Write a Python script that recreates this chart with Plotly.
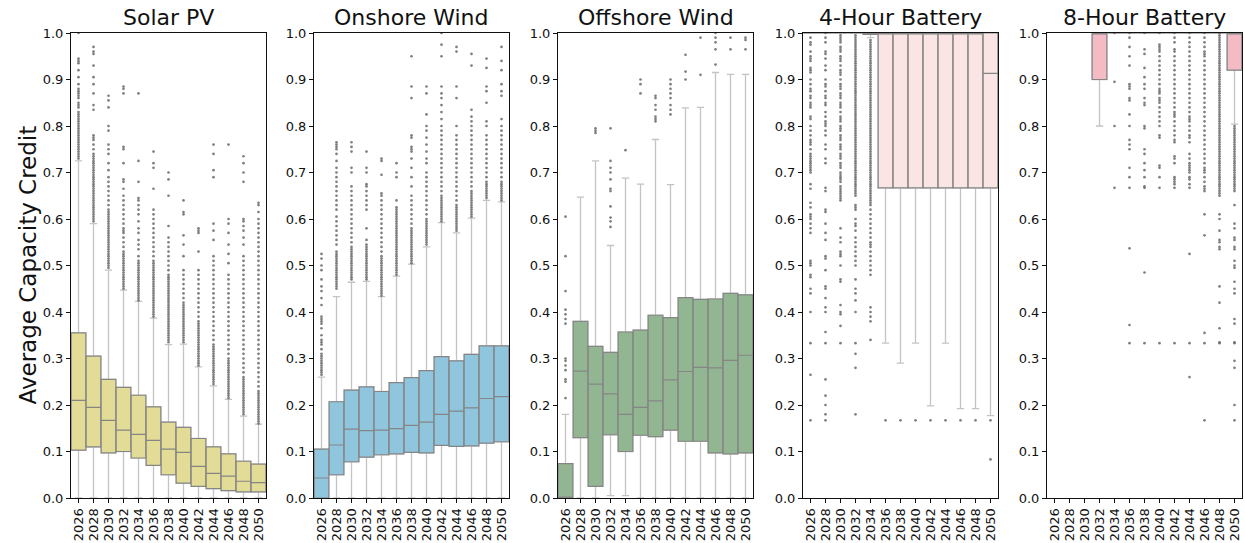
import plotly.graph_objects as go

YEARS = [2026, 2028, 2030, 2032, 2034, 2036, 2038, 2040, 2042, 2044, 2046, 2048, 2050]
TITLES = ["Solar PV", "Onshore Wind", "Offshore Wind", "4-Hour Battery", "8-Hour Battery"]
Y_TICKS = [0.0, 0.1, 0.2, 0.3, 0.4, 0.5, 0.6, 0.7, 0.8, 0.9, 1.0]

# ---------------- Solar PV ----------------
SOLAR_Q1 = [0.103, 0.110, 0.097, 0.100, 0.086, 0.070, 0.050, 0.032, 0.025, 0.020, 0.016, 0.013, 0.013]
SOLAR_MED = [0.210, 0.195, 0.167, 0.146, 0.137, 0.124, 0.105, 0.098, 0.068, 0.053, 0.047, 0.036, 0.033]
SOLAR_Q3 = [0.355, 0.305, 0.255, 0.238, 0.221, 0.196, 0.163, 0.152, 0.128, 0.110, 0.095, 0.079, 0.073]
SOLAR_LO = [0.0, 0.0, 0.0, 0.0, 0.0, 0.0, 0.0, 0.0, 0.0, 0.0, 0.0, 0.0, 0.0]
SOLAR_HI = [0.725, 0.590, 0.490, 0.447, 0.423, 0.387, 0.330, 0.331, 0.282, 0.241, 0.212, 0.176, 0.159]
SOLAR_OUT = [
    [0.730, 0.735, 0.740, 0.745, 0.750, 0.755, 0.760, 0.765, 0.770, 0.775, 0.780, 0.785, 0.790, 0.795, 0.800,
     0.805, 0.810, 0.815, 0.820, 0.825, 0.830, 0.840, 0.845, 0.850, 0.860, 0.865, 0.870, 0.875, 0.880, 0.890,
     0.905, 0.920, 0.935, 0.940, 0.945, 1.000],
    [0.595, 0.600, 0.605, 0.610, 0.615, 0.620, 0.625, 0.630, 0.635, 0.640, 0.645, 0.650, 0.655, 0.660, 0.665,
     0.670, 0.675, 0.680, 0.685, 0.690, 0.695, 0.700, 0.705, 0.710, 0.715, 0.720, 0.725, 0.730, 0.735, 0.740,
     0.750, 0.760, 0.770, 0.775, 0.780, 0.835, 0.845, 0.870, 0.890, 0.905, 0.930, 0.955, 0.960, 0.970],
    [0.495, 0.500, 0.505, 0.510, 0.515, 0.520, 0.525, 0.530, 0.535, 0.540, 0.545, 0.550, 0.555, 0.560, 0.565,
     0.570, 0.575, 0.580, 0.585, 0.590, 0.595, 0.600, 0.605, 0.610, 0.615, 0.620, 0.630, 0.640, 0.650, 0.660,
     0.670, 0.680, 0.690, 0.705, 0.720, 0.740, 0.750, 0.760, 0.790, 0.800, 0.840, 0.855, 0.865],
    [0.450, 0.455, 0.460, 0.465, 0.470, 0.475, 0.480, 0.485, 0.490, 0.495, 0.500, 0.505, 0.510, 0.515, 0.520,
     0.525, 0.530, 0.540, 0.550, 0.560, 0.570, 0.575, 0.580, 0.590, 0.600, 0.610, 0.620, 0.630, 0.640, 0.650,
     0.665, 0.680, 0.685, 0.720, 0.750, 0.755, 0.870, 0.880, 0.885],
    [0.425, 0.430, 0.435, 0.440, 0.445, 0.450, 0.455, 0.460, 0.465, 0.470, 0.475, 0.480, 0.485, 0.490, 0.495,
     0.500, 0.505, 0.510, 0.520, 0.535, 0.545, 0.555, 0.570, 0.580, 0.595, 0.610, 0.620, 0.630, 0.640, 0.645,
     0.680, 0.725, 0.870],
    [0.390, 0.395, 0.400, 0.405, 0.410, 0.415, 0.420, 0.425, 0.430, 0.435, 0.440, 0.445, 0.450, 0.455, 0.460,
     0.465, 0.470, 0.475, 0.480, 0.485, 0.490, 0.495, 0.500, 0.505, 0.510, 0.520, 0.530, 0.540, 0.550, 0.560,
     0.570, 0.580, 0.590, 0.600, 0.610, 0.620, 0.665, 0.710, 0.720, 0.745],
    [0.335, 0.340, 0.345, 0.350, 0.355, 0.360, 0.365, 0.370, 0.375, 0.380, 0.385, 0.390, 0.395, 0.400, 0.405,
     0.410, 0.415, 0.420, 0.425, 0.430, 0.435, 0.440, 0.445, 0.450, 0.455, 0.460, 0.465, 0.470, 0.475, 0.480,
     0.490, 0.500, 0.510, 0.520, 0.530, 0.540, 0.550, 0.560, 0.585, 0.650, 0.685, 0.700],
    [0.335, 0.340, 0.345, 0.350, 0.355, 0.360, 0.365, 0.370, 0.375, 0.380, 0.385, 0.390, 0.395, 0.400, 0.405,
     0.410, 0.415, 0.420, 0.430, 0.440, 0.450, 0.460, 0.470, 0.480, 0.490, 0.520, 0.545, 0.565, 0.610, 0.615,
     0.640],
    [0.285, 0.290, 0.295, 0.300, 0.305, 0.310, 0.315, 0.320, 0.325, 0.330, 0.335, 0.340, 0.345, 0.350, 0.355,
     0.360, 0.365, 0.370, 0.375, 0.380, 0.390, 0.400, 0.410, 0.420, 0.430, 0.440, 0.450, 0.460, 0.470, 0.480,
     0.490, 0.530, 0.570, 0.575, 0.580],
    [0.245, 0.250, 0.255, 0.260, 0.265, 0.270, 0.275, 0.280, 0.285, 0.290, 0.295, 0.300, 0.305, 0.310, 0.315,
     0.320, 0.325, 0.330, 0.340, 0.350, 0.360, 0.370, 0.380, 0.390, 0.400, 0.410, 0.420, 0.430, 0.440, 0.450,
     0.460, 0.470, 0.480, 0.490, 0.500, 0.510, 0.520, 0.555, 0.575, 0.590, 0.690, 0.705, 0.740, 0.760],
    [0.215, 0.220, 0.225, 0.230, 0.235, 0.240, 0.245, 0.250, 0.255, 0.260, 0.265, 0.270, 0.275, 0.280, 0.285,
     0.290, 0.295, 0.300, 0.310, 0.320, 0.330, 0.340, 0.350, 0.360, 0.370, 0.380, 0.390, 0.400, 0.410, 0.420,
     0.430, 0.440, 0.450, 0.460, 0.470, 0.480, 0.505, 0.525, 0.545, 0.570, 0.590, 0.600, 0.760],
    [0.180, 0.185, 0.190, 0.195, 0.200, 0.205, 0.210, 0.215, 0.220, 0.225, 0.230, 0.235, 0.240, 0.245, 0.250,
     0.255, 0.260, 0.270, 0.280, 0.290, 0.300, 0.310, 0.320, 0.330, 0.340, 0.350, 0.360, 0.370, 0.380, 0.390,
     0.400, 0.410, 0.420, 0.430, 0.440, 0.450, 0.460, 0.470, 0.480, 0.490, 0.500, 0.510, 0.520, 0.545, 0.560,
     0.575, 0.585, 0.595, 0.600, 0.680, 0.700, 0.720, 0.735],
    [0.160, 0.165, 0.170, 0.175, 0.180, 0.185, 0.190, 0.195, 0.200, 0.205, 0.210, 0.215, 0.220, 0.225, 0.230,
     0.240, 0.250, 0.260, 0.270, 0.280, 0.290, 0.300, 0.310, 0.320, 0.330, 0.340, 0.350, 0.360, 0.370, 0.380,
     0.390, 0.400, 0.410, 0.420, 0.430, 0.440, 0.450, 0.460, 0.470, 0.480, 0.490, 0.500, 0.510, 0.520, 0.530,
     0.540, 0.550, 0.560, 0.570, 0.580, 0.590, 0.600, 0.615, 0.630, 0.635],
]

# ---------------- Onshore Wind ----------------
ONSHORE_Q1 = [0.000, 0.050, 0.078, 0.088, 0.093, 0.095, 0.098, 0.097, 0.113, 0.111, 0.112, 0.118, 0.121]
ONSHORE_MED = [0.043, 0.114, 0.148, 0.145, 0.146, 0.149, 0.156, 0.163, 0.180, 0.187, 0.194, 0.214, 0.218]
ONSHORE_Q3 = [0.105, 0.207, 0.232, 0.239, 0.229, 0.248, 0.259, 0.274, 0.304, 0.295, 0.309, 0.327, 0.327]
ONSHORE_LO = [0.0, 0.0, 0.0, 0.0, 0.0, 0.0, 0.0, 0.0, 0.0, 0.0, 0.0, 0.0, 0.0]
ONSHORE_HI = [0.260, 0.433, 0.464, 0.466, 0.433, 0.477, 0.503, 0.540, 0.592, 0.570, 0.602, 0.640, 0.637]
ONSHORE_OUT = [
    [0.265, 0.270, 0.275, 0.280, 0.285, 0.290, 0.295, 0.300, 0.305, 0.310, 0.320, 0.330, 0.335, 0.340, 0.350,
     0.365, 0.375, 0.380, 0.385, 0.390, 0.415, 0.430, 0.445, 0.455, 0.470, 0.490, 0.500, 0.515, 0.525],
    [0.450, 0.455, 0.460, 0.465, 0.470, 0.475, 0.480, 0.485, 0.490, 0.495, 0.500, 0.505, 0.510, 0.515, 0.520,
     0.525, 0.530, 0.545, 0.555, 0.565, 0.575, 0.585, 0.595, 0.605, 0.620, 0.630, 0.640, 0.650, 0.660, 0.670,
     0.680, 0.690, 0.700, 0.710, 0.725, 0.740, 0.750, 0.755, 0.760, 0.765],
    [0.470, 0.475, 0.480, 0.485, 0.490, 0.495, 0.500, 0.505, 0.510, 0.515, 0.520, 0.525, 0.530, 0.535, 0.540,
     0.550, 0.560, 0.570, 0.580, 0.590, 0.600, 0.610, 0.620, 0.630, 0.640, 0.650, 0.660, 0.670, 0.700, 0.710,
     0.745, 0.755, 0.765],
    [0.470, 0.475, 0.480, 0.485, 0.490, 0.495, 0.500, 0.505, 0.510, 0.515, 0.520, 0.525, 0.530, 0.535, 0.540,
     0.545, 0.555, 0.580, 0.620, 0.630, 0.640, 0.650, 0.660, 0.670, 0.675, 0.700, 0.710, 0.745],
    [0.435, 0.440, 0.445, 0.450, 0.455, 0.460, 0.465, 0.470, 0.475, 0.480, 0.485, 0.490, 0.495, 0.500, 0.505,
     0.510, 0.515, 0.520, 0.530, 0.540, 0.550, 0.560, 0.570, 0.580, 0.590, 0.600, 0.610, 0.620, 0.630, 0.640,
     0.650, 0.655, 0.695, 0.725, 0.730],
    [0.480, 0.485, 0.490, 0.495, 0.500, 0.505, 0.510, 0.515, 0.520, 0.525, 0.530, 0.535, 0.540, 0.545, 0.550,
     0.555, 0.560, 0.565, 0.570, 0.575, 0.580, 0.585, 0.590, 0.595, 0.600, 0.605, 0.610, 0.615, 0.620, 0.625,
     0.640, 0.690, 0.700, 0.720],
    [0.505, 0.510, 0.515, 0.520, 0.525, 0.530, 0.535, 0.540, 0.545, 0.550, 0.555, 0.560, 0.565, 0.570, 0.575,
     0.580, 0.590, 0.600, 0.610, 0.620, 0.630, 0.640, 0.650, 0.670, 0.690, 0.710, 0.730, 0.745, 0.750, 0.755,
     0.775, 0.780, 0.860, 0.885, 0.950],
    [0.545, 0.550, 0.555, 0.560, 0.565, 0.570, 0.575, 0.580, 0.585, 0.590, 0.595, 0.600, 0.610, 0.620, 0.630,
     0.640, 0.650, 0.660, 0.670, 0.680, 0.690, 0.700, 0.720, 0.730, 0.745, 0.760, 0.775, 0.790, 0.800, 0.825,
     0.870, 0.885],
    [0.595, 0.600, 0.605, 0.610, 0.615, 0.620, 0.625, 0.630, 0.635, 0.640, 0.645, 0.650, 0.660, 0.670, 0.680,
     0.690, 0.700, 0.710, 0.720, 0.730, 0.740, 0.750, 0.760, 0.770, 0.780, 0.790, 0.800, 0.815, 0.830, 0.845,
     0.860, 0.870, 0.885, 0.950, 0.975, 1.000],
    [0.575, 0.580, 0.585, 0.590, 0.595, 0.600, 0.605, 0.610, 0.615, 0.620, 0.625, 0.630, 0.640, 0.650, 0.660,
     0.670, 0.680, 0.690, 0.700, 0.710, 0.720, 0.730, 0.740, 0.750, 0.760, 0.770, 0.780, 0.800, 0.860, 0.885,
     0.960, 0.970],
    [0.605, 0.610, 0.615, 0.620, 0.625, 0.630, 0.635, 0.640, 0.645, 0.650, 0.655, 0.660, 0.670, 0.680, 0.690,
     0.700, 0.710, 0.720, 0.730, 0.740, 0.750, 0.760, 0.770, 0.780, 0.790, 0.800, 0.810, 0.820, 0.835, 0.930,
     0.955],
    [0.645, 0.650, 0.655, 0.660, 0.665, 0.670, 0.675, 0.680, 0.690, 0.700, 0.710, 0.720, 0.730, 0.740, 0.750,
     0.760, 0.770, 0.780, 0.800, 0.810, 0.850, 0.875, 0.885, 0.925, 0.945],
    [0.640, 0.645, 0.650, 0.655, 0.660, 0.665, 0.670, 0.675, 0.680, 0.690, 0.700, 0.710, 0.720, 0.730, 0.740,
     0.750, 0.760, 0.770, 0.780, 0.790, 0.800, 0.815, 0.865, 0.875, 0.890, 0.920, 0.940, 0.970],
]

# ---------------- Offshore Wind ----------------
OFFSHORE_Q1 = [0.000, 0.130, 0.025, 0.136, 0.100, 0.135, 0.132, 0.146, 0.122, 0.122, 0.097, 0.095, 0.097]
OFFSHORE_MED = [0.000, 0.273, 0.245, 0.224, 0.180, 0.195, 0.209, 0.254, 0.272, 0.281, 0.280, 0.296, 0.307]
OFFSHORE_Q3 = [0.074, 0.380, 0.326, 0.313, 0.357, 0.361, 0.393, 0.388, 0.431, 0.427, 0.428, 0.440, 0.437]
OFFSHORE_LO = [0.0, 0.0, 0.0, 0.005, 0.005, 0.0, 0.0, 0.0, 0.0, 0.0, 0.0, 0.0, 0.0]
OFFSHORE_HI = [0.180, 0.647, 0.725, 0.543, 0.688, 0.675, 0.771, 0.674, 0.839, 0.840, 0.915, 0.911, 0.911]
OFFSHORE_OUT = [
    [0.215, 0.250, 0.255, 0.275, 0.285, 0.295, 0.300, 0.375, 0.385, 0.395, 0.405, 0.445, 0.520, 0.605],
    [],
    [0.785, 0.790, 0.795],
    [0.583, 0.595, 0.603, 0.627, 0.660, 0.665, 0.685, 0.700, 0.710, 0.725, 0.795],
    [0.748],
    [0.870, 0.890, 0.900],
    [0.810, 0.815, 0.820, 0.835, 0.845, 0.860, 0.865],
    [0.825, 0.835, 0.845, 0.860, 0.870, 0.880, 0.890, 0.900],
    [0.900, 0.917, 0.953],
    [0.910, 0.990],
    [0.932, 0.965, 0.980, 0.990, 1.000],
    [0.965, 0.990],
    [0.965, 0.985, 0.990],
]

# ---------------- 4-Hour Battery ----------------
BAT4_Q1 = [1.0, 1.0, 1.0, 1.0, 0.997, 0.667, 0.667, 0.667, 0.667, 0.667, 0.667, 0.667, 0.667]
BAT4_MED = [1.0, 1.0, 1.0, 1.0, 1.0, 1.0, 1.0, 1.0, 1.0, 1.0, 1.0, 1.0, 0.913]
BAT4_Q3 = [1.0, 1.0, 1.0, 1.0, 1.0, 1.0, 1.0, 1.0, 1.0, 1.0, 1.0, 1.0, 1.0]
BAT4_LO = [1.0, 1.0, 1.0, 1.0, 0.990, 0.333, 0.290, 0.333, 0.198, 0.333, 0.192, 0.192, 0.177]
BAT4_HI = [1.0, 1.0, 1.0, 1.0, 1.0, 1.0, 1.0, 1.0, 1.0, 1.0, 1.0, 1.0, 1.0]
BAT4_OUT = [
    [0.167, 0.265, 0.333, 0.400, 0.440, 0.450, 0.475, 0.480, 0.500, 0.505, 0.510, 0.570, 0.580, 0.590, 0.600,
     0.605, 0.610, 0.625, 0.635, 0.665, 0.675, 0.700, 0.705, 0.710, 0.715, 0.720, 0.725, 0.730, 0.735, 0.740,
     0.750, 0.760, 0.765, 0.770, 0.780, 0.790, 0.800, 0.815, 0.820, 0.840, 0.845, 0.850, 0.860, 0.865, 0.875,
     0.880, 0.890, 0.900, 0.915, 0.920, 0.925, 0.940, 0.945, 0.950, 0.960, 0.975, 0.980, 0.990],
    [0.167, 0.180, 0.200, 0.220, 0.255, 0.333, 0.357, 0.400, 0.410, 0.430, 0.450, 0.455, 0.490, 0.515, 0.520,
     0.555, 0.570, 0.590, 0.615, 0.620, 0.660, 0.667, 0.720, 0.730, 0.750, 0.760, 0.780, 0.790, 0.800, 0.805,
     0.810, 0.820, 0.830, 0.845, 0.850, 0.860, 0.865, 0.875, 0.885, 0.890, 0.900, 0.920, 0.930, 0.945, 0.955,
     0.960, 0.980, 0.990, 1.000],
    [0.333, 0.370, 0.395, 0.400, 0.415, 0.465, 0.470, 0.500, 0.520, 0.525, 0.530, 0.550, 0.560, 0.580, 0.640,
     0.645, 0.650, 0.655, 0.660, 0.665, 0.670, 0.680, 0.685, 0.690, 0.695, 0.700, 0.710, 0.715, 0.720, 0.730,
     0.735, 0.740, 0.750, 0.755, 0.760, 0.770, 0.775, 0.780, 0.790, 0.795, 0.800, 0.810, 0.815, 0.820, 0.830,
     0.840, 0.845, 0.850, 0.860, 0.865, 0.870, 0.880, 0.885, 0.890, 0.900, 0.910, 0.915, 0.920, 0.930, 0.940,
     0.945, 0.950, 0.960, 0.965, 0.970, 0.980, 0.985, 0.990, 0.995],
    [0.180, 0.280, 0.310, 0.333, 0.400, 0.425, 0.440, 0.450, 0.470, 0.500, 0.510, 0.520, 0.530, 0.540, 0.550,
     0.560, 0.575, 0.585, 0.590, 0.600, 0.620, 0.625, 0.630, 0.650, 0.655, 0.660, 0.665, 0.670, 0.675, 0.680,
     0.685, 0.690, 0.695, 0.700, 0.705, 0.710, 0.715, 0.720, 0.725, 0.730, 0.735, 0.740, 0.745, 0.750, 0.755,
     0.760, 0.765, 0.770, 0.775, 0.780, 0.785, 0.790, 0.795, 0.800, 0.805, 0.810, 0.815, 0.820, 0.825, 0.830,
     0.835, 0.840, 0.845, 0.850, 0.855, 0.860, 0.865, 0.870, 0.875, 0.880, 0.885, 0.890, 0.895, 0.900, 0.905,
     0.910, 0.915, 0.920, 0.925, 0.930, 0.935, 0.940, 0.945, 0.950, 0.955, 0.960, 0.965, 0.970, 0.975, 0.980,
     0.985, 0.990, 0.995],
    [0.340, 0.380, 0.390, 0.400, 0.410, 0.480, 0.490, 0.500, 0.510, 0.520, 0.530, 0.540, 0.545, 0.550, 0.560,
     0.570, 0.580, 0.590, 0.600, 0.610, 0.620, 0.630, 0.635, 0.640, 0.645, 0.650, 0.655, 0.660, 0.665, 0.670,
     0.675, 0.680, 0.685, 0.690, 0.695, 0.700, 0.705, 0.710, 0.715, 0.720, 0.725, 0.730, 0.735, 0.740, 0.745,
     0.750, 0.755, 0.760, 0.765, 0.770, 0.775, 0.780, 0.785, 0.790, 0.795, 0.800, 0.805, 0.810, 0.815, 0.820,
     0.825, 0.830, 0.835, 0.840, 0.845, 0.850, 0.855, 0.860, 0.865, 0.870, 0.875, 0.880, 0.885, 0.890, 0.895,
     0.900, 0.905, 0.910, 0.915, 0.920, 0.925, 0.930, 0.935, 0.940, 0.945, 0.950, 0.955, 0.960, 0.965, 0.970,
     0.975, 0.980, 0.985],
    [0.167], [0.167], [0.167], [0.167], [0.167], [0.167], [0.167], [0.083, 0.167],
]

# ---------------- 8-Hour Battery ----------------
BAT8_Q1 = [None, None, None, 0.900, 1.0, 1.0, 1.0, 1.0, 1.0, 1.0, 1.0, 1.0, 0.920]
BAT8_MED = [None, None, None, 1.0, 1.0, 1.0, 1.0, 1.0, 1.0, 1.0, 1.0, 1.0, 1.0]
BAT8_Q3 = [None, None, None, 1.0, 1.0, 1.0, 1.0, 1.0, 1.0, 1.0, 1.0, 1.0, 1.0]
BAT8_LO = [None, None, None, 0.800, 1.0, 1.0, 1.0, 1.0, 1.0, 1.0, 1.0, 1.0, 0.804]
BAT8_HI = [None, None, None, 1.0, 1.0, 1.0, 1.0, 1.0, 1.0, 1.0, 1.0, 1.0, 1.0]
BAT8_OUT = [
    [], [], [], [],
    [0.667, 0.800, 0.895, 1.000],
    [0.333, 0.372, 0.537, 0.667, 0.690, 0.710, 0.750, 0.760, 0.770, 0.800, 0.825, 0.855, 0.860, 0.880, 0.885,
     0.890, 0.930, 0.950, 0.970, 0.990, 1.000],
    [0.333, 0.485, 0.667, 0.670, 0.690, 0.705, 0.720, 0.740, 0.750, 0.795, 0.800, 0.845, 0.850, 0.860, 0.880,
     0.890, 0.905, 0.925, 0.955, 0.965, 1.000],
    [0.333, 0.667, 0.690, 0.710, 0.715, 0.775, 0.780, 0.800, 0.810, 0.820, 0.830, 0.840, 0.850, 0.855, 0.860,
     0.870, 0.875, 0.880, 0.890, 0.900, 0.910, 0.920, 0.930, 0.940, 0.950, 0.960, 0.965, 0.970, 0.975, 1.000],
    [0.333, 0.667, 0.675, 0.680, 0.685, 0.690, 0.720, 0.730, 0.735, 0.765, 0.770, 0.780, 0.790, 0.800, 0.810,
     0.820, 0.825, 0.830, 0.840, 0.850, 0.860, 0.870, 0.880, 0.890, 0.900, 0.910, 0.920, 0.930, 0.940, 0.950,
     0.960, 0.965, 0.980, 0.990, 1.000],
    [0.260, 0.333, 0.525, 0.667, 0.675, 0.685, 0.690, 0.700, 0.705, 0.710, 0.715, 0.720, 0.730, 0.740, 0.765,
     0.775, 0.780, 0.790, 0.800, 0.810, 0.815, 0.820, 0.830, 0.840, 0.850, 0.860, 0.870, 0.880, 0.890, 0.900,
     0.910, 0.920, 0.930, 0.940, 0.950, 0.960, 0.970, 0.980, 0.990, 1.000],
    [0.167, 0.333, 0.355, 0.565, 0.610, 0.660, 0.665, 0.670, 0.680, 0.690, 0.700, 0.705, 0.710, 0.720, 0.730,
     0.740, 0.750, 0.760, 0.770, 0.780, 0.790, 0.800, 0.810, 0.820, 0.830, 0.840, 0.850, 0.860, 0.870, 0.880,
     0.890, 0.900, 0.910, 0.920, 0.930, 0.940, 0.950, 0.955, 0.960, 0.970, 0.980, 0.990, 1.000],
    [0.333, 0.335, 0.365, 0.420, 0.455, 0.535, 0.540, 0.550, 0.555, 0.575, 0.600, 0.610, 0.650, 0.655, 0.660,
     0.665, 0.670, 0.675, 0.680, 0.685, 0.690, 0.695, 0.700, 0.705, 0.710, 0.715, 0.720, 0.725, 0.730, 0.735,
     0.740, 0.745, 0.750, 0.755, 0.760, 0.765, 0.770, 0.775, 0.780, 0.785, 0.790, 0.795, 0.800, 0.805, 0.810,
     0.815, 0.820, 0.825, 0.830, 0.835, 0.840, 0.845, 0.850, 0.855, 0.860, 0.865, 0.870, 0.875, 0.880, 0.885,
     0.890, 0.895, 0.900, 0.905, 0.910, 0.915, 0.920, 0.925, 0.930, 0.935, 0.940, 0.945, 0.950, 0.955, 0.960,
     0.965, 0.970, 0.975, 0.980, 0.985, 0.990, 0.995, 1.000],
    [0.167, 0.200, 0.280, 0.295, 0.333, 0.335, 0.375, 0.385, 0.440, 0.450, 0.465, 0.495, 0.500, 0.510, 0.535,
     0.540, 0.555, 0.560, 0.580, 0.590, 0.630, 0.660, 0.665, 0.670, 0.675, 0.680, 0.685, 0.690, 0.695, 0.700,
     0.705, 0.710, 0.715, 0.720, 0.725, 0.730, 0.735, 0.740, 0.745, 0.750, 0.755, 0.760, 0.765, 0.770, 0.775,
     0.780, 0.785, 0.790, 0.795, 0.800],
]

PANELS = [
    (SOLAR_Q1, SOLAR_MED, SOLAR_Q3, SOLAR_LO, SOLAR_HI, SOLAR_OUT),
    (ONSHORE_Q1, ONSHORE_MED, ONSHORE_Q3, ONSHORE_LO, ONSHORE_HI, ONSHORE_OUT),
    (OFFSHORE_Q1, OFFSHORE_MED, OFFSHORE_Q3, OFFSHORE_LO, OFFSHORE_HI, OFFSHORE_OUT),
    (BAT4_Q1, BAT4_MED, BAT4_Q3, BAT4_LO, BAT4_HI, BAT4_OUT),
    (BAT8_Q1, BAT8_MED, BAT8_Q3, BAT8_LO, BAT8_HI, BAT8_OUT),
]

# ---------------- styling ----------------
FILLS = ["#e3dc97", "#8fc6de", "#92b692", "#fae4e4", "#f5bbc5"]
EDGE = "#858585"
WHISKER = "#c4c4c4"
FLIER = "rgba(105,105,105,0.85)"
W, H = 1245, 543
PX_LEFT = [71, 314, 558, 803, 1047]
PX_WIDTH = 195
TOP, BOTTOM = 33, 498
FONT = "DejaVu Sans"
INK = "#111111"

fig = go.Figure()
for i, (q1, med, q3, lo, hi, out) in enumerate(PANELS):
    xa = "x" if i == 0 else f"x{i+1}"
    ya = "y" if i == 0 else f"y{i+1}"
    idx = [k for k in range(len(YEARS)) if q1[k] is not None]
    common = dict(x=idx, q1=[q1[k] for k in idx], median=[med[k] for k in idx], q3=[q3[k] for k in idx],
                  width=0.98, fillcolor=FILLS[i], boxpoints=False, showlegend=False,
                  xaxis=xa, yaxis=ya, hoverinfo="skip")
    # whiskers (light grey)
    fig.add_trace(go.Box(lowerfence=[lo[k] for k in idx], upperfence=[hi[k] for k in idx],
                         whiskerwidth=0.5, line=dict(color=WHISKER, width=1.3), **common))
    # box body + median (darker grey)
    fig.add_trace(go.Box(lowerfence=[q1[k] for k in idx], upperfence=[q3[k] for k in idx],
                         whiskerwidth=0, line=dict(color=EDGE, width=1.2), **common))
    # outliers
    fx, fy = [], []
    for k, vals in enumerate(out):
        for v in vals:
            fx.append(k)
            fy.append(v)
    fig.add_trace(go.Scatter(x=fx, y=fy, mode="markers", showlegend=False, hoverinfo="skip",
                             marker=dict(size=2.7, color=FLIER, line=dict(width=0)),
                             xaxis=xa, yaxis=ya))

layout = dict(
    width=W, height=H, margin=dict(l=0, r=0, t=TOP, b=H - BOTTOM),
    paper_bgcolor="white", plot_bgcolor="white", boxmode="overlay",
    font=dict(family=FONT, color=INK), showlegend=False,
)
annotations = []
for i in range(5):
    xa = "xaxis" if i == 0 else f"xaxis{i+1}"
    ya = "yaxis" if i == 0 else f"yaxis{i+1}"
    xref = "x" if i == 0 else f"x{i+1}"
    yref = "y" if i == 0 else f"y{i+1}"
    d0 = PX_LEFT[i] / W
    d1 = (PX_LEFT[i] + PX_WIDTH) / W
    layout[xa] = dict(domain=[d0, d1], anchor=yref, range=[-0.5, len(YEARS) - 0.5],
                      tickmode="array", tickvals=list(range(len(YEARS))), ticktext=[str(y) for y in YEARS],
                      tickangle=-90, tickfont=dict(size=13, family=FONT, color=INK),
                      ticks="outside", ticklen=4, tickcolor=INK,
                      showline=True, mirror=True, linecolor=INK, linewidth=1,
                      showgrid=False, zeroline=False)
    layout[ya] = dict(domain=[0, 1], anchor=xref, range=[0, 1.0],
                      tickmode="array", tickvals=Y_TICKS, ticktext=[f"{v:.1f}" for v in Y_TICKS],
                      tickfont=dict(size=13, family=FONT, color=INK),
                      ticks="outside", ticklen=4, tickcolor=INK,
                      showline=True, mirror=True, linecolor=INK, linewidth=1,
                      showgrid=False, zeroline=False)
    annotations.append(dict(text=TITLES[i], x=(d0 + d1) / 2, y=1, xref="paper", yref="paper",
                            xanchor="center", yanchor="bottom", yshift=1, showarrow=False,
                            font=dict(size=22, family=FONT, color=INK)))
annotations.append(dict(text="Average Capacity Credit", x=27 / W, y=0.5, xref="paper", yref="paper",
                        xanchor="center", yanchor="middle", textangle=-90, showarrow=False,
                        font=dict(size=23, family=FONT, color=INK)))
layout["annotations"] = annotations
fig.update_layout(**layout)
fig.write_html("out.html")
